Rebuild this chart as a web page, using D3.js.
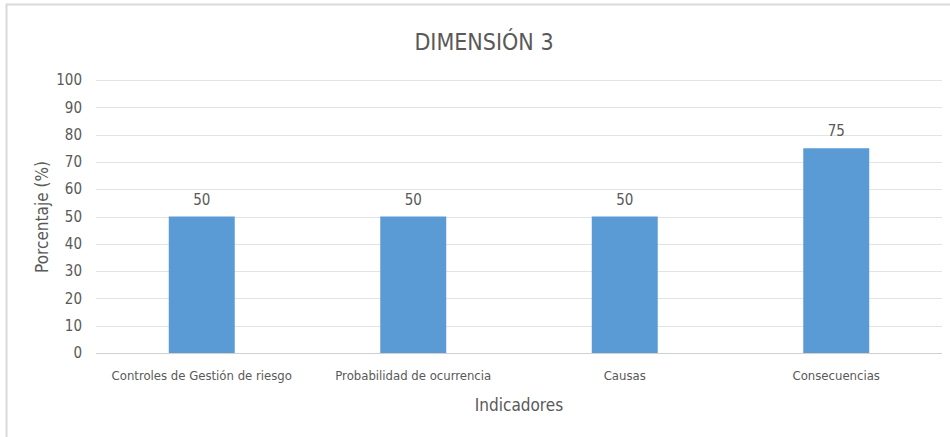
<!DOCTYPE html>
<html>
<head>
<meta charset="utf-8">
<script src="https://cdn.jsdelivr.net/npm/d3@7"></script>
<style>
  body { margin: 0; background: #fff; }
  svg text { font-family: "Liberation Sans Narrow", "DejaVu Sans Condensed", "Open Sans", sans-serif; fill: #595959; }
</style>
</head>
<body>
<div id="chart"></div>
<script>
var categories = ["Controles de Gestión de riesgo", "Probabilidad de ocurrencia", "Causas", "Consecuencias"];
var values = [50, 50, 50, 75];
var yTicks = [0, 10, 20, 30, 40, 50, 60, 70, 80, 90, 100];

var width = 950, height = 437;
var margin = {top: 80, right: 8, bottom: 84, left: 96};

var svg = d3.select("#chart").append("svg")
    .attr("width", width)
    .attr("height", height);

// outer frame
svg.append("rect")
    .attr("x", 6.5).attr("y", 4.5)
    .attr("width", width + 10).attr("height", height + 10)
    .attr("fill", "none")
    .attr("stroke", "#d9d9d9")
    .attr("stroke-width", 2);

var x = d3.scaleBand()
    .domain(categories)
    .range([margin.left, width - margin.right])
    .paddingInner(0.688)
    .paddingOuter(0.344);

var y = d3.scaleLinear()
    .domain([0, 100])
    .range([353, margin.top]);

// gridlines
svg.append("g").selectAll("line")
    .data(yTicks)
    .enter().append("line")
    .attr("x1", margin.left).attr("x2", width - margin.right)
    .attr("y1", function(d) { return Math.round(y(d)) + 0.5; })
    .attr("y2", function(d) { return Math.round(y(d)) + 0.5; })
    .attr("stroke", function(d) { return d === 0 ? "#d0d0d0" : "#e3e3e3"; })
    .attr("stroke-width", 1);

// y tick labels
svg.append("g").selectAll("text")
    .data(yTicks)
    .enter().append("text")
    .attr("x", 82)
    .attr("y", function(d) { return y(d); })
    .attr("dy", "0.35em")
    .attr("text-anchor", "end")
    .style("font-size", "15px")
    .text(function(d) { return d; });

// bars
svg.append("g").selectAll("rect")
    .data(values)
    .enter().append("rect")
    .attr("x", function(d, i) { return x(categories[i]); })
    .attr("y", function(d) { return y(d); })
    .attr("width", x.bandwidth())
    .attr("height", function(d) { return y(0) - y(d); })
    .attr("fill", "#5b9bd5");

// value labels
svg.append("g").selectAll("text")
    .data(values)
    .enter().append("text")
    .attr("x", function(d, i) { return x(categories[i]) + x.bandwidth() / 2; })
    .attr("y", function(d) { return y(d) - 12; })
    .attr("text-anchor", "middle")
    .style("font-size", "15px")
    .text(function(d) { return d; });

// category labels
svg.append("g").selectAll("text")
    .data(categories)
    .enter().append("text")
    .attr("x", function(d) { return x(d) + x.bandwidth() / 2; })
    .attr("y", 380)
    .attr("text-anchor", "middle")
    .style("font-size", "13px")
    .text(function(d) { return d; });

// axis titles
svg.append("text")
    .attr("x", (margin.left + width - margin.right) / 2)
    .attr("y", 411)
    .attr("text-anchor", "middle")
    .style("font-size", "17px")
    .text("Indicadores");

svg.append("text")
    .attr("transform", "translate(48,217) rotate(-90)")
    .attr("text-anchor", "middle")
    .style("font-size", "17px")
    .text("Porcentaje (%)");

// chart title
svg.append("text")
    .attr("x", 484)
    .attr("y", 50)
    .attr("text-anchor", "middle")
    .style("font-size", "23px")
    .text("DIMENSIÓN 3");
</script>
</body>
</html>
